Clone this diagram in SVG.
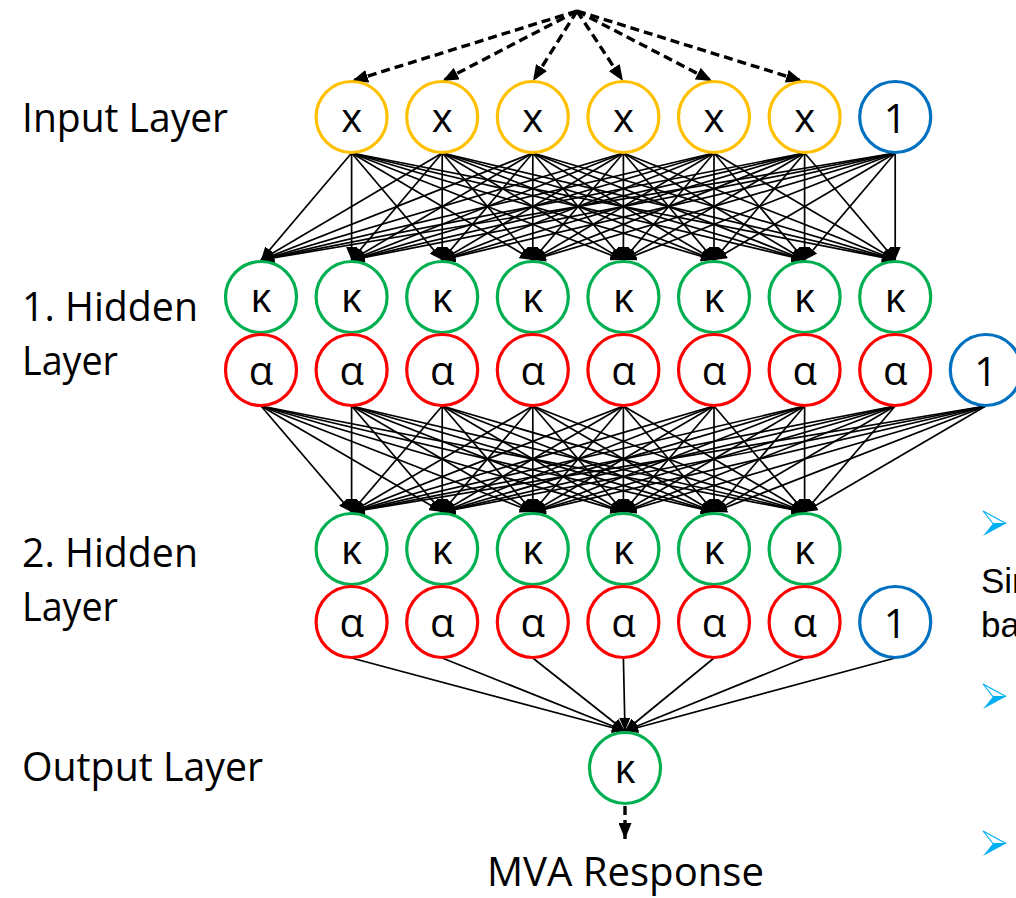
<svg xmlns="http://www.w3.org/2000/svg" width="1016" height="898" viewBox="0 0 1016 898">
<style>
.lbl{font-family:"Open Sans","Noto Sans",sans-serif;font-size:40px;fill:#000}
.nt{font-family:"Open Sans","Noto Sans",sans-serif;font-size:40px;fill:#000;text-anchor:middle}
.n{fill:#fff;stroke-width:3.2}
.y{stroke:#FFC000}.b{stroke:#0070C0}.g{stroke:#00B050}.r{stroke:#FF0000}
.c line{stroke:#000;stroke-width:1.7;marker-end:url(#ah)}
.d line{stroke:#000;stroke-width:3.4;stroke-dasharray:9 5;marker-end:url(#dh)}
.sl{font-family:"Liberation Sans",Arial,sans-serif;font-size:35px;fill:#000}
.bl{fill:#00B0F0}
.bu{fill:#fff;stroke:#00B0F0;stroke-width:1.2}
</style>
<defs>
<marker id="ah" markerWidth="13" markerHeight="11" refX="13" refY="5.5" orient="auto" markerUnits="userSpaceOnUse"><path d="M0,0 L13,5.5 L0,11 z" fill="#000"/></marker>
<marker id="dh" markerWidth="16" markerHeight="13" refX="16" refY="6.5" orient="auto" markerUnits="userSpaceOnUse"><path d="M0,0 L16,6.5 L0,13 z" fill="#000"/></marker>
</defs>
<rect width="1016" height="898" fill="#fff"/>

<g id="labels">
<text class="lbl" x="22" y="132" textLength="206" lengthAdjust="spacingAndGlyphs">Input Layer</text>
<text class="lbl" x="22" y="321" textLength="176" lengthAdjust="spacingAndGlyphs">1. Hidden</text>
<text class="lbl" x="22" y="375" textLength="96" lengthAdjust="spacingAndGlyphs">Layer</text>
<text class="lbl" x="22" y="567" textLength="176" lengthAdjust="spacingAndGlyphs">2. Hidden</text>
<text class="lbl" x="22" y="621" textLength="96" lengthAdjust="spacingAndGlyphs">Layer</text>
<text class="lbl" x="22" y="781" textLength="241" lengthAdjust="spacingAndGlyphs">Output Layer</text>
<text class="lbl" x="487" y="886" textLength="277" lengthAdjust="spacingAndGlyphs">MVA Response</text>
</g>

<g id="connectors">
<g class="d">
<line x1="577" y1="11" x2="352" y2="81"/>
<line x1="577" y1="11" x2="442.5" y2="81"/>
<line x1="577" y1="11" x2="533" y2="81"/>
<line x1="577" y1="11" x2="623" y2="81"/>
<line x1="577" y1="11" x2="712" y2="81"/>
<line x1="577" y1="11" x2="802" y2="81"/>
<line x1="625" y1="806" x2="625" y2="839"/>
</g>
<g class="c">
<line x1="351.6" y1="153" x2="261" y2="260"/><line x1="351.6" y1="153" x2="351.6" y2="260"/><line x1="351.6" y1="153" x2="442.2" y2="260"/><line x1="351.6" y1="153" x2="532.8" y2="260"/><line x1="351.6" y1="153" x2="623.4" y2="260"/><line x1="351.6" y1="153" x2="714" y2="260"/><line x1="351.6" y1="153" x2="804.6" y2="260"/><line x1="351.6" y1="153" x2="895.2" y2="260"/>
<line x1="442.2" y1="153" x2="261" y2="260"/><line x1="442.2" y1="153" x2="351.6" y2="260"/><line x1="442.2" y1="153" x2="442.2" y2="260"/><line x1="442.2" y1="153" x2="532.8" y2="260"/><line x1="442.2" y1="153" x2="623.4" y2="260"/><line x1="442.2" y1="153" x2="714" y2="260"/><line x1="442.2" y1="153" x2="804.6" y2="260"/><line x1="442.2" y1="153" x2="895.2" y2="260"/>
<line x1="532.8" y1="153" x2="261" y2="260"/><line x1="532.8" y1="153" x2="351.6" y2="260"/><line x1="532.8" y1="153" x2="442.2" y2="260"/><line x1="532.8" y1="153" x2="532.8" y2="260"/><line x1="532.8" y1="153" x2="623.4" y2="260"/><line x1="532.8" y1="153" x2="714" y2="260"/><line x1="532.8" y1="153" x2="804.6" y2="260"/><line x1="532.8" y1="153" x2="895.2" y2="260"/>
<line x1="623.4" y1="153" x2="261" y2="260"/><line x1="623.4" y1="153" x2="351.6" y2="260"/><line x1="623.4" y1="153" x2="442.2" y2="260"/><line x1="623.4" y1="153" x2="532.8" y2="260"/><line x1="623.4" y1="153" x2="623.4" y2="260"/><line x1="623.4" y1="153" x2="714" y2="260"/><line x1="623.4" y1="153" x2="804.6" y2="260"/><line x1="623.4" y1="153" x2="895.2" y2="260"/>
<line x1="714" y1="153" x2="261" y2="260"/><line x1="714" y1="153" x2="351.6" y2="260"/><line x1="714" y1="153" x2="442.2" y2="260"/><line x1="714" y1="153" x2="532.8" y2="260"/><line x1="714" y1="153" x2="623.4" y2="260"/><line x1="714" y1="153" x2="714" y2="260"/><line x1="714" y1="153" x2="804.6" y2="260"/><line x1="714" y1="153" x2="895.2" y2="260"/>
<line x1="804.6" y1="153" x2="261" y2="260"/><line x1="804.6" y1="153" x2="351.6" y2="260"/><line x1="804.6" y1="153" x2="442.2" y2="260"/><line x1="804.6" y1="153" x2="532.8" y2="260"/><line x1="804.6" y1="153" x2="623.4" y2="260"/><line x1="804.6" y1="153" x2="714" y2="260"/><line x1="804.6" y1="153" x2="804.6" y2="260"/><line x1="804.6" y1="153" x2="895.2" y2="260"/>
<line x1="895.2" y1="153" x2="261" y2="260"/><line x1="895.2" y1="153" x2="351.6" y2="260"/><line x1="895.2" y1="153" x2="442.2" y2="260"/><line x1="895.2" y1="153" x2="532.8" y2="260"/><line x1="895.2" y1="153" x2="623.4" y2="260"/><line x1="895.2" y1="153" x2="714" y2="260"/><line x1="895.2" y1="153" x2="804.6" y2="260"/><line x1="895.2" y1="153" x2="895.2" y2="260"/>

<line x1="261" y1="406" x2="351.6" y2="512"/><line x1="261" y1="406" x2="442.2" y2="512"/><line x1="261" y1="406" x2="532.8" y2="512"/><line x1="261" y1="406" x2="623.4" y2="512"/><line x1="261" y1="406" x2="714" y2="512"/><line x1="261" y1="406" x2="804.6" y2="512"/>
<line x1="351.6" y1="406" x2="351.6" y2="512"/><line x1="351.6" y1="406" x2="442.2" y2="512"/><line x1="351.6" y1="406" x2="532.8" y2="512"/><line x1="351.6" y1="406" x2="623.4" y2="512"/><line x1="351.6" y1="406" x2="714" y2="512"/><line x1="351.6" y1="406" x2="804.6" y2="512"/>
<line x1="442.2" y1="406" x2="351.6" y2="512"/><line x1="442.2" y1="406" x2="442.2" y2="512"/><line x1="442.2" y1="406" x2="532.8" y2="512"/><line x1="442.2" y1="406" x2="623.4" y2="512"/><line x1="442.2" y1="406" x2="714" y2="512"/><line x1="442.2" y1="406" x2="804.6" y2="512"/>
<line x1="532.8" y1="406" x2="351.6" y2="512"/><line x1="532.8" y1="406" x2="442.2" y2="512"/><line x1="532.8" y1="406" x2="532.8" y2="512"/><line x1="532.8" y1="406" x2="623.4" y2="512"/><line x1="532.8" y1="406" x2="714" y2="512"/><line x1="532.8" y1="406" x2="804.6" y2="512"/>
<line x1="623.4" y1="406" x2="351.6" y2="512"/><line x1="623.4" y1="406" x2="442.2" y2="512"/><line x1="623.4" y1="406" x2="532.8" y2="512"/><line x1="623.4" y1="406" x2="623.4" y2="512"/><line x1="623.4" y1="406" x2="714" y2="512"/><line x1="623.4" y1="406" x2="804.6" y2="512"/>
<line x1="714" y1="406" x2="351.6" y2="512"/><line x1="714" y1="406" x2="442.2" y2="512"/><line x1="714" y1="406" x2="532.8" y2="512"/><line x1="714" y1="406" x2="623.4" y2="512"/><line x1="714" y1="406" x2="714" y2="512"/><line x1="714" y1="406" x2="804.6" y2="512"/>
<line x1="804.6" y1="406" x2="351.6" y2="512"/><line x1="804.6" y1="406" x2="442.2" y2="512"/><line x1="804.6" y1="406" x2="532.8" y2="512"/><line x1="804.6" y1="406" x2="623.4" y2="512"/><line x1="804.6" y1="406" x2="714" y2="512"/><line x1="804.6" y1="406" x2="804.6" y2="512"/>
<line x1="895.2" y1="406" x2="351.6" y2="512"/><line x1="895.2" y1="406" x2="442.2" y2="512"/><line x1="895.2" y1="406" x2="532.8" y2="512"/><line x1="895.2" y1="406" x2="623.4" y2="512"/><line x1="895.2" y1="406" x2="714" y2="512"/><line x1="895.2" y1="406" x2="804.6" y2="512"/>
<line x1="985.8" y1="406" x2="351.6" y2="512"/><line x1="985.8" y1="406" x2="442.2" y2="512"/><line x1="985.8" y1="406" x2="532.8" y2="512"/><line x1="985.8" y1="406" x2="623.4" y2="512"/><line x1="985.8" y1="406" x2="714" y2="512"/><line x1="985.8" y1="406" x2="804.6" y2="512"/>

<line x1="351.6" y1="658" x2="625" y2="731"/><line x1="442.2" y1="658" x2="625" y2="731"/><line x1="532.8" y1="658" x2="625" y2="731"/><line x1="623.4" y1="658" x2="625" y2="731"/><line x1="714" y1="658" x2="625" y2="731"/><line x1="804.6" y1="658" x2="625" y2="731"/><line x1="895.2" y1="658" x2="625" y2="731"/>
</g>
</g>

<g id="input-layer">
<g id="in1"><circle class="n y" cx="351.6" cy="117" r="35.5"/><text class="nt" x="351.6" y="132">x</text></g>
<g id="in2"><circle class="n y" cx="442.2" cy="117" r="35.5"/><text class="nt" x="442.2" y="132">x</text></g>
<g id="in3"><circle class="n y" cx="532.8" cy="117" r="35.5"/><text class="nt" x="532.8" y="132">x</text></g>
<g id="in4"><circle class="n y" cx="623.4" cy="117" r="35.5"/><text class="nt" x="623.4" y="132">x</text></g>
<g id="in5"><circle class="n y" cx="714" cy="117" r="35.5"/><text class="nt" x="714" y="132">x</text></g>
<g id="in6"><circle class="n y" cx="804.6" cy="117" r="35.5"/><text class="nt" x="804.6" y="132">x</text></g>
<g id="in-bias"><circle class="n b" cx="895.2" cy="117" r="35.5"/><text class="nt" x="895.2" y="133">1</text></g>
</g>

<g id="hidden1">
<g id="h1k1"><circle class="n g" cx="261" cy="297" r="35.5"/><text class="nt" x="261" y="312">κ</text></g>
<g id="h1k2"><circle class="n g" cx="351.6" cy="297" r="35.5"/><text class="nt" x="351.6" y="312">κ</text></g>
<g id="h1k3"><circle class="n g" cx="442.2" cy="297" r="35.5"/><text class="nt" x="442.2" y="312">κ</text></g>
<g id="h1k4"><circle class="n g" cx="532.8" cy="297" r="35.5"/><text class="nt" x="532.8" y="312">κ</text></g>
<g id="h1k5"><circle class="n g" cx="623.4" cy="297" r="35.5"/><text class="nt" x="623.4" y="312">κ</text></g>
<g id="h1k6"><circle class="n g" cx="714" cy="297" r="35.5"/><text class="nt" x="714" y="312">κ</text></g>
<g id="h1k7"><circle class="n g" cx="804.6" cy="297" r="35.5"/><text class="nt" x="804.6" y="312">κ</text></g>
<g id="h1k8"><circle class="n g" cx="895.2" cy="297" r="35.5"/><text class="nt" x="895.2" y="312">κ</text></g>
<g id="h1a1"><circle class="n r" cx="261" cy="370" r="35.5"/><text class="nt" x="261" y="385">α</text></g>
<g id="h1a2"><circle class="n r" cx="351.6" cy="370" r="35.5"/><text class="nt" x="351.6" y="385">α</text></g>
<g id="h1a3"><circle class="n r" cx="442.2" cy="370" r="35.5"/><text class="nt" x="442.2" y="385">α</text></g>
<g id="h1a4"><circle class="n r" cx="532.8" cy="370" r="35.5"/><text class="nt" x="532.8" y="385">α</text></g>
<g id="h1a5"><circle class="n r" cx="623.4" cy="370" r="35.5"/><text class="nt" x="623.4" y="385">α</text></g>
<g id="h1a6"><circle class="n r" cx="714" cy="370" r="35.5"/><text class="nt" x="714" y="385">α</text></g>
<g id="h1a7"><circle class="n r" cx="804.6" cy="370" r="35.5"/><text class="nt" x="804.6" y="385">α</text></g>
<g id="h1a8"><circle class="n r" cx="895.2" cy="370" r="35.5"/><text class="nt" x="895.2" y="385">α</text></g>
<g id="h1-bias"><circle class="n b" cx="985.8" cy="370" r="35.5"/><text class="nt" x="985.8" y="386">1</text></g>
</g>

<g id="hidden2">
<g id="h2k1"><circle class="n g" cx="351.6" cy="549" r="35.5"/><text class="nt" x="351.6" y="564">κ</text></g>
<g id="h2k2"><circle class="n g" cx="442.2" cy="549" r="35.5"/><text class="nt" x="442.2" y="564">κ</text></g>
<g id="h2k3"><circle class="n g" cx="532.8" cy="549" r="35.5"/><text class="nt" x="532.8" y="564">κ</text></g>
<g id="h2k4"><circle class="n g" cx="623.4" cy="549" r="35.5"/><text class="nt" x="623.4" y="564">κ</text></g>
<g id="h2k5"><circle class="n g" cx="714" cy="549" r="35.5"/><text class="nt" x="714" y="564">κ</text></g>
<g id="h2k6"><circle class="n g" cx="804.6" cy="549" r="35.5"/><text class="nt" x="804.6" y="564">κ</text></g>
<g id="h2a1"><circle class="n r" cx="351.6" cy="622" r="35.5"/><text class="nt" x="351.6" y="637">α</text></g>
<g id="h2a2"><circle class="n r" cx="442.2" cy="622" r="35.5"/><text class="nt" x="442.2" y="637">α</text></g>
<g id="h2a3"><circle class="n r" cx="532.8" cy="622" r="35.5"/><text class="nt" x="532.8" y="637">α</text></g>
<g id="h2a4"><circle class="n r" cx="623.4" cy="622" r="35.5"/><text class="nt" x="623.4" y="637">α</text></g>
<g id="h2a5"><circle class="n r" cx="714" cy="622" r="35.5"/><text class="nt" x="714" y="637">α</text></g>
<g id="h2a6"><circle class="n r" cx="804.6" cy="622" r="35.5"/><text class="nt" x="804.6" y="637">α</text></g>
<g id="h2-bias"><circle class="n b" cx="895.2" cy="622" r="35.5"/><text class="nt" x="895.2" y="638">1</text></g>
</g>

<g id="output">
<g id="out-k"><circle class="n g" cx="625" cy="768" r="35.5"/><text class="nt" x="625" y="783">κ</text></g>
</g>

<g id="slide-fragments">
<polygon class="bu" points="983,511 1006,523.5 993,523.5"/>
<polygon class="bl" points="993,523.5 1006,523.5 983,536"/>
<polygon class="bu" points="983,684 1006,696.5 993,696.5"/>
<polygon class="bl" points="993,696.5 1006,696.5 983,709"/>
<polygon class="bu" points="983,831 1006,843.5 993,843.5"/>
<polygon class="bl" points="993,843.5 1006,843.5 983,856"/>
<text class="sl" x="981" y="593">Sin</text>
<text class="sl" x="981" y="637">ba</text>
</g>
</svg>
